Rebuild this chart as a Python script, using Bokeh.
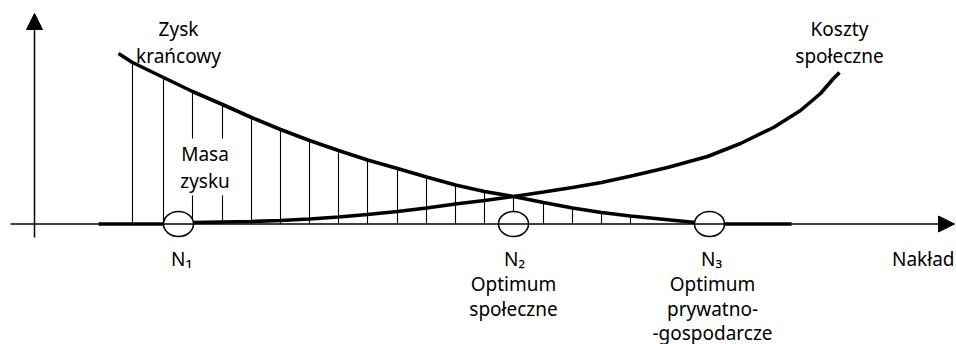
from bokeh.plotting import figure
from bokeh.models import Range1d, Arrow, NormalHead
from bokeh.core.properties import value
from bokeh.embed import file_html
from bokeh.resources import INLINE

# ---- data (schematic units; origin at the axes crossing) ----
# Marginal profit curve ("Zysk krańcowy")
zysk_x = [84, 98, 129, 158, 188, 217, 246, 275, 304, 333, 363, 392, 421, 450,
          479, 509, 538, 567, 596, 626, 656, 675, 757]
zysk_y = [170.5, 161.5, 146.5, 132.5, 119.5, 106.5, 94.5, 83.5, 73.5, 64, 55.5,
          47, 39, 32.5, 27.5, 21.5, 16, 11.5, 8, 5, 2, 0, 0]

# Social cost curve ("Koszty społeczne")
koszty_x = [64, 129, 158, 188, 217, 246, 275, 304, 333, 363, 392, 421, 450, 479,
            509, 538, 567, 599, 633, 673, 706, 739, 766, 786, 799, 805]
koszty_y = [0, 0, 1.5, 2, 2.5, 3.5, 5, 7, 9.5, 12.5, 16, 20, 23.5, 27.5, 32,
            36.5, 41.5, 48.5, 56.5, 67.5, 80.5, 96.5, 113.5, 130.5, 145.5, 151.5]

# hatched area "Masa zysku": vertical lines up to the profit curve
hatch_x = zysk_x[1:19]
hatch_top = zysk_y[1:19]

# optimum points on the input axis
points_x = [144, 479, 675]
points_labels = ["N\u2081", "N\u2082", "N\u2083"]

axis_label = "Nakład"
curve_labels = [["Zysk", "krańcowy"], ["Koszty", "społeczne"]]
area_label = ["Masa", "zysku"]
optimum_labels = [["Optimum", "społeczne"], ["Optimum", "prywatno-", "-gospodarcze"]]

# ---- figure ----
FONT = value("Noto Sans")
FS = "19px"
LINE = 27  # text line spacing in data units (= px)

p = figure(width=956, height=344,
           x_range=Range1d(-34, 922), y_range=Range1d(-120.5, 223.5),
           output_backend="svg", toolbar_location=None, min_border=0,
           x_axis_type=None, y_axis_type=None, outline_line_color=None)

# axes with arrow heads
p.add_layout(Arrow(end=NormalHead(size=16, fill_color="black", line_color="black", line_width=1),
                   x_start=-24, y_start=0, x_end=920, y_end=0,
                   line_width=1.5, line_color="black"))
p.add_layout(Arrow(end=NormalHead(size=16, fill_color="black", line_color="black", line_width=1),
                   x_start=0, y_start=-13.5, x_end=0, y_end=210.5,
                   line_width=1.5, line_color="black"))

# hatch lines
p.segment(x0=hatch_x, y0=[0] * len(hatch_x), x1=hatch_x, y1=hatch_top,
          line_color="black", line_width=1.1)

# "Masa zysku" label with white background
p.text(x=[170.5, 170.5], y=[70.5, 43.5], text=area_label,
       text_align="center", text_baseline="alphabetic",
       text_font=FONT, text_font_size=FS, text_color="black",
       background_fill_color="white", padding=2)

# curves
p.line(koszty_x, koszty_y, line_color="black", line_width=3.6)
p.line(zysk_x, zysk_y, line_color="black", line_width=3.6)

# optimum markers
p.ellipse(x=points_x, y=[0] * len(points_x), width=30, height=25,
          fill_color="white", line_color="black", line_width=1.5)

# texts
p.text(x=[147, 480, 677], y=[-35] * 3, text=points_labels,
       text_align="center", text_baseline="alphabetic",
       text_font=FONT, text_font_size=FS, text_color="black")

p.text(x=[920], y=[-35], text=[axis_label],
       text_align="right", text_baseline="alphabetic",
       text_font=FONT, text_font_size=FS, text_color="black")

p.text(x=[144, 144], y=[195.5, 195.5 - LINE], text=curve_labels[0],
       text_align="center", text_baseline="alphabetic",
       text_font=FONT, text_font_size=FS, text_color="black")
p.text(x=[805, 805], y=[195.5, 195.5 - LINE], text=curve_labels[1],
       text_align="center", text_baseline="alphabetic",
       text_font=FONT, text_font_size=FS, text_color="black")

p.text(x=[479, 479], y=[-60, -84.5], text=optimum_labels[0],
       text_align="center", text_baseline="alphabetic",
       text_font=FONT, text_font_size=FS, text_color="black")
p.text(x=[678, 678, 678], y=[-60, -84.5, -108.5], text=optimum_labels[1],
       text_align="center", text_baseline="alphabetic",
       text_font=FONT, text_font_size=FS, text_color="black")

open("out.html", "w").write(file_html(p, INLINE))
